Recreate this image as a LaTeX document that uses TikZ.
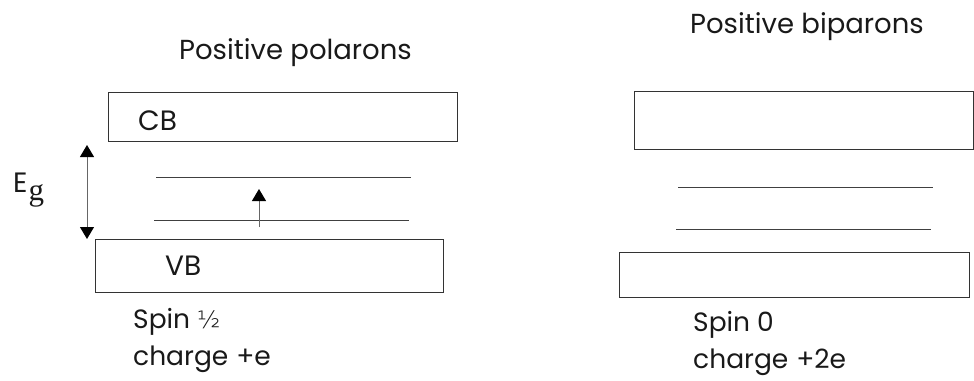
\documentclass[tikz,border=0pt]{standalone}
\usepackage{fontspec}
\setmainfont{Poppins}
\newfontfamily\subfont{Liberation Serif}
\newfontfamily\dvfont{DejaVu Sans ExtraLight}
\usetikzlibrary{arrows.meta}
\begin{document}
\begin{tikzpicture}[x=1pt,y=-1pt,
  bandbox/.style={draw=black!80,line width=0.9pt},
  level/.style={draw=black!75,line width=0.9pt},
  arr/.style={draw=black!60,line width=1pt,-{Triangle[width=14pt,length=12pt,color=black,fill=black]}},
  title/.style={anchor=base west,inner sep=0pt,font=\fontsize{27.5}{32}\selectfont,text=black!90},
  lbl/.style={anchor=base west,inner sep=0pt,font=\fontsize{28}{32}\selectfont,text=black!90},
  note/.style={anchor=base west,inner sep=0pt,font=\fontsize{26.5}{30}\selectfont,text=black!90}]
\useasboundingbox (0,0) rectangle (974,380);
% left diagram
\node[title] (t1) at (179,59) {Positive polarons};
\draw[bandbox] (108,92) rectangle (457,141);
\node[lbl] (cb) at (138,130) {CB};
\coordinate (l1a) at (156,177); \coordinate (l1b) at (411,177);
\coordinate (l2a) at (154,220); \coordinate (l2b) at (409,220);
\draw[level] (l1a) -- (l1b);
\draw[level] (l2a) -- (l2b);
\coordinate (sa) at (259,227); \coordinate (sb) at (259,189);
\draw[arr] (sa) -- (sb);
\coordinate (ea) at (87,191); \coordinate (eb) at (87,145); \coordinate (ec) at (87,239);
\draw[arr] (ea) -- (eb);
\draw[arr] (ea) -- (ec);
\node[lbl,font=\fontsize{28}{32}\selectfont] (eg) at (13,192) {E\kern1pt\raisebox{-8pt}{\subfont\fontsize{31}{34}\selectfont g}};
\draw[bandbox] (95,239) rectangle (443,292);
\node[lbl] (vb) at (165,275) {VB};
\node[note] (s1) at (133,328) {Spin {\dvfont\fontsize{24}{28}\selectfont ½}};
\node[note] (c1) at (133,365) {charge\hspace{8pt}+e};
% right diagram
\node[title] (t2) at (690,33) {Positive biparons};
\draw[bandbox] (634,91) rectangle (973,149);
\coordinate (r1a) at (678,187); \coordinate (r1b) at (933,187);
\coordinate (r2a) at (676,229); \coordinate (r2b) at (931,229);
\draw[level] (r1a) -- (r1b);
\draw[level] (r2a) -- (r2b);
\draw[bandbox] (619,252) rectangle (969,297);
\node[note] (s2) at (693,331) {Spin 0};
\node[note] (c2) at (693,368) {charge\hspace{8pt}+2e};
\end{tikzpicture}
\end{document}
